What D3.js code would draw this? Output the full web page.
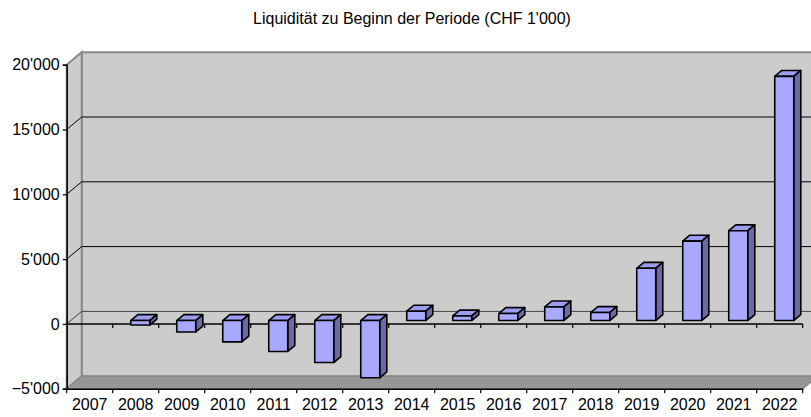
<!DOCTYPE html>
<html>
<head>
<meta charset="utf-8">
<script src="https://cdn.jsdelivr.net/npm/d3@7/dist/d3.min.js"></script>
<style>
  html, body { margin: 0; padding: 0; background: #ffffff; }
  svg { display: block; font-family: "Liberation Sans", Arial, sans-serif; }
</style>
</head>
<body>
<svg id="chart" width="811" height="417"></svg>
<script>
// Liquidity at the start of each period, in CHF thousands
const years = ["2007", "2008", "2009", "2010", "2011", "2012", "2013", "2014",
               "2015", "2016", "2017", "2018", "2019", "2020", "2021", "2022"];
const liquidity = [0, -350, -880, -1650, -2390, -3240, -4420, 720,
                   350, 540, 1050, 620, 4030, 6130, 6930, 18840];
const yTicks = [-5000, 0, 5000, 10000, 15000, 20000];
const title = "Liquidität zu Beginn der Periode (CHF 1'000)";

const svg = d3.select("#chart");

// Front plane of the 3D box
const x0 = 66.7, x1 = 802.7;
const yTop = 64.7, yBottom = 388.7;
// Depth of the box (offset of the back wall)
const depthX = 15, depthY = -12.5;

const x = d3.scaleBand().domain(years).range([x0, x1]).padding(0);
const y = d3.scaleLinear().domain([-5000, 20000]).range([yBottom, yTop]);

// Project a point at front-plane coordinates (px, py) to depth z (0 front .. 1 back)
const P = (px, py, z) => [px + z * depthX, py + z * depthY];
const poly = pts => "M" + pts.map(p => p.join(",")).join("L") + "Z";

const fmt = v => {
  const s = d3.format(",")(v);
  return s.replace(/,/g, "'");
};

// Title
svg.append("text")
  .attr("x", 412).attr("y", 23.5)
  .attr("text-anchor", "middle")
  .attr("font-size", 16)
  .attr("fill", "#000")
  .text(title);

const box = svg.append("g");
const wallFill = "#cccccc", floorFill = "#979797", wallStroke = "#8a8a8a";

// Back wall
box.append("path")
  .attr("d", poly([P(x0, yTop, 1), P(x1 + 20, yTop, 1), P(x1 + 20, yBottom, 1), P(x0, yBottom, 1)]))
  .attr("fill", wallFill).attr("stroke", wallStroke).attr("stroke-width", 2);

// Side wall
box.append("path")
  .attr("d", poly([P(x0, yTop, 0), P(x0, yTop, 1), P(x0, yBottom, 1), P(x0, yBottom, 0)]))
  .attr("fill", wallFill).attr("stroke", wallStroke).attr("stroke-width", 2);

// Floor
box.append("path")
  .attr("d", poly([P(x0, yBottom, 0), P(x0, yBottom, 1), P(x1, yBottom, 1), P(x1, yBottom, 0)]))
  .attr("fill", floorFill).attr("stroke", wallStroke).attr("stroke-width", 1.5);

// Gridlines on side wall and back wall
const gridVals = yTicks.filter(v => v > -5000 && v < 20000);
gridVals.forEach(v => {
  const yy = y(v);
  const a = P(x0, yy, 0), b = P(x0, yy, 1), c = P(x1 + 20, yy, 1);
  box.append("path")
    .attr("d", "M" + a + "L" + b + "L" + c)
    .attr("fill", "none")
    .attr("stroke", v === 0 ? "#444" : "#000")
    .attr("stroke-width", 1);
});

// Left value axis
const yAxis = d3.axisLeft(y)
  .tickValues(yTicks)
  .tickSize(4)
  .tickPadding(3)
  .tickFormat(fmt);
const yAxisG = svg.append("g")
  .attr("transform", `translate(${x0},0)`)
  .call(yAxis);
yAxisG.select(".domain").attr("stroke", "#000").attr("stroke-width", 1.5);
yAxisG.selectAll(".tick line").attr("stroke", "#000").attr("stroke-width", 1.2);
yAxisG.selectAll(".tick text")
  .attr("font-size", 16).attr("fill", "#000")
  .attr("font-family", "Liberation Sans, Arial, sans-serif");

// Category boundaries for the tick marks
const bounds = years.map(d => x(d)).concat([x1]);

// Zero line with ticks at category boundaries
const zeroY = y(0);
svg.append("line")
  .attr("x1", x0).attr("x2", x1)
  .attr("y1", zeroY).attr("y2", zeroY)
  .attr("stroke", "#000").attr("stroke-width", 1.5);
svg.selectAll(".zero-tick").data(bounds.slice(1)).join("line")
  .attr("class", "zero-tick")
  .attr("x1", d => d).attr("x2", d => d)
  .attr("y1", zeroY).attr("y2", zeroY + 4)
  .attr("stroke", "#000").attr("stroke-width", 1.2);

// Bottom category axis (labels centered, ticks at boundaries)
const xAxis = d3.axisBottom(x).tickSize(0).tickPadding(10);
const xAxisG = svg.append("g")
  .attr("transform", `translate(0,${yBottom})`)
  .call(xAxis);
xAxisG.select(".domain").attr("stroke", "#000").attr("stroke-width", 1.5);
xAxisG.selectAll(".tick text")
  .attr("font-size", 16).attr("fill", "#000")
  .attr("font-family", "Liberation Sans, Arial, sans-serif");
svg.selectAll(".cat-tick").data(bounds).join("line")
  .attr("class", "cat-tick")
  .attr("x1", d => d).attr("x2", d => d)
  .attr("y1", yBottom).attr("y2", yBottom + 4.5)
  .attr("stroke", "#000").attr("stroke-width", 1.2);

// 3D columns
const barW = 19;
const zFront = 0.27, zBack = 0.74;
const frontFill = "#a8a8ff", sideFill = "#6a6aa6", topFill = "#9c9cf0";
const bars = svg.append("g");
years.forEach((yr, i) => {
  const v = liquidity[i];
  if (v === 0) return;
  const cx = x(yr) + x.bandwidth() / 2 + 0.5;
  const l = cx - barW / 2, r = cx + barW / 2;
  const yHi = y(Math.max(v, 0)), yLo = y(Math.min(v, 0));
  const g = bars.append("g")
    .attr("stroke", "#000").attr("stroke-width", 1.6).attr("stroke-linejoin", "round");
  // top
  g.append("path")
    .attr("d", poly([P(l, yHi, zFront), P(l, yHi, zBack), P(r, yHi, zBack), P(r, yHi, zFront)]))
    .attr("fill", topFill);
  // right side
  g.append("path")
    .attr("d", poly([P(r, yHi, zFront), P(r, yHi, zBack), P(r, yLo, zBack), P(r, yLo, zFront)]))
    .attr("fill", sideFill);
  // front
  g.append("path")
    .attr("d", poly([P(l, yHi, zFront), P(r, yHi, zFront), P(r, yLo, zFront), P(l, yLo, zFront)]))
    .attr("fill", frontFill);
});
</script>
</body>
</html>
